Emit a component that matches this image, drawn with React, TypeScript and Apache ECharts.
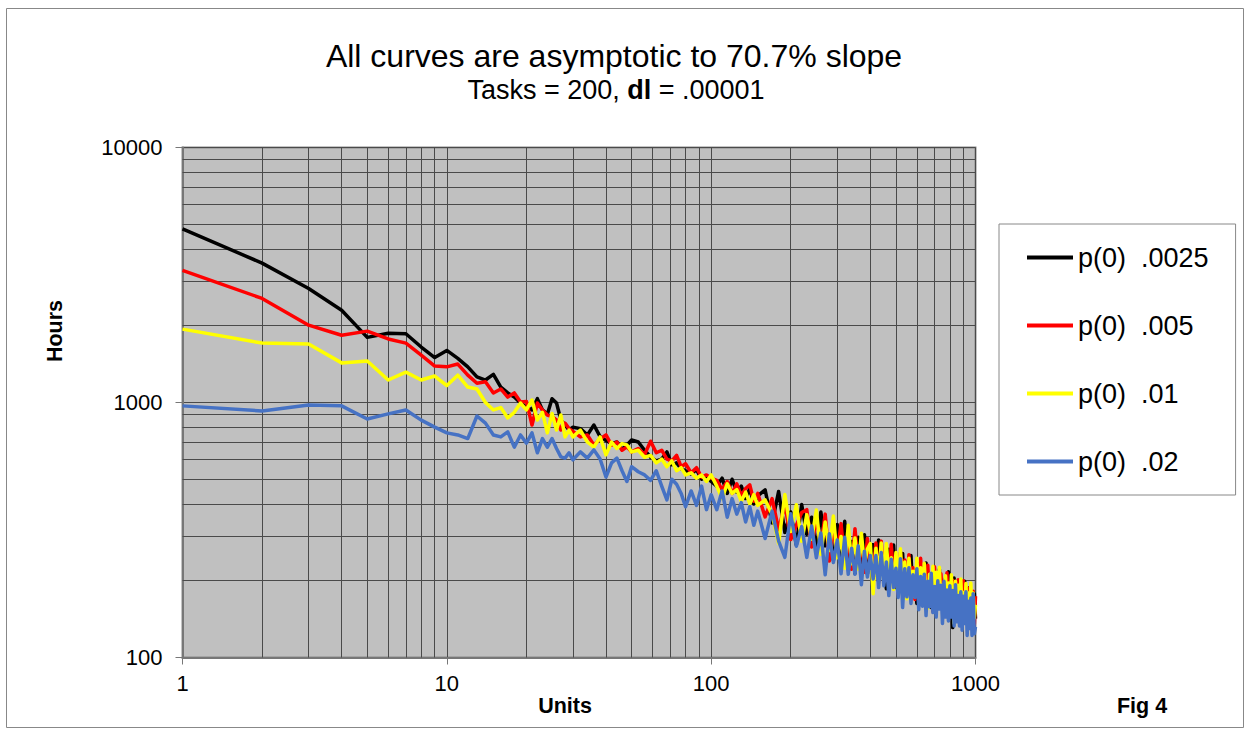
import React, { useEffect, useRef } from "react";
import * as echarts from "echarts";

const FONT = '"Liberation Sans", Arial, Helvetica, sans-serif';

// x values (Units)
const units = [
  1, 2, 3, 4, 5, 6, 7, 8, 9, 10, 11, 12, 13, 14, 15, 16, 17, 18, 19, 20, 21, 22, 23, 24, 25, 26, 27, 28, 29, 30,
  32, 34, 36, 38, 40, 42, 44, 46, 48, 50,
  53, 56, 59, 62, 65, 68, 71, 74, 77, 80,
  84, 88, 92, 96, 100,
  105, 110, 115, 120, 125, 130, 135, 140, 145, 150,
  160, 170, 180, 190, 200, 210, 220, 230, 240, 250, 260, 270, 280, 290, 300, 310, 320, 330, 340, 350, 360, 370, 380, 390, 400,
  410, 420, 430, 440, 450, 460, 470, 480, 490, 500,
  510, 520, 530, 540, 550, 560, 570, 580, 590, 600,
  610, 620, 630, 640, 650, 660, 670, 680, 690, 700,
  710, 720, 730, 740, 750, 760, 770, 780, 790, 800,
  810, 820, 830, 840, 850, 860, 870, 880, 890, 900,
  910, 920, 930, 940, 950, 960, 970, 980, 990, 1000,
];

// Hours, p(0) .0025
const hoursP0025 = [
  4800, 3520, 2800, 2300, 1800, 1870, 1860, 1650, 1500, 1600, 1490, 1380, 1260, 1225, 1290, 1150, 1090, 1050, 995, 960, 935, 1035, 935, 900, 1035, 995, 854, 816, 780, 800,
  790, 745, 816, 735, 710, 690, 700, 655, 680, 713,
  700, 650, 610, 590, 600, 640, 570, 580, 550, 540,
  525, 545, 500, 515, 490,
  470, 505, 440, 500, 445, 470, 420, 460, 400, 430,
  454, 337, 448, 309, 372, 276, 398, 304, 355, 262, 372, 274, 299, 241, 332, 247, 342, 234, 285, 214, 296, 234, 303, 213, 275,
  277, 210, 289, 214, 248, 186, 266, 217, 276, 188,
  239, 193, 256, 176, 234, 194, 251, 177, 210, 163,
  232, 181, 223, 164, 235, 172, 203, 157, 220, 178,
  207, 156, 222, 166, 183, 145, 205, 158, 217, 150,
  187, 131, 205, 142, 189, 147, 196, 135, 176, 154,
  199, 139, 184, 143, 188, 132, 174, 138, 178, 142,
];

// Hours, p(0) .005
const hoursP005 = [
  3300, 2560, 2010, 1835, 1905, 1775, 1710, 1535, 1390, 1380, 1415, 1280, 1190, 1205, 1090, 1130, 1050, 1090, 1005, 1010, 816, 995, 935, 893, 880, 854, 780, 830, 790, 770,
  733, 746, 682, 720, 746, 680, 700, 650, 670, 640,
  660, 625, 705, 635, 650, 600, 590, 620, 560, 575,
  530, 555, 510, 520, 505,
  495, 455, 490, 440, 480, 430, 460, 475, 410, 440,
  356, 420, 317, 399, 290, 330, 370, 380, 271, 354, 273, 365, 239, 323, 260, 335, 238, 289, 222, 320, 232, 286, 216, 293, 225,
  217, 281, 198, 286, 212, 256, 196, 278, 208, 235,
  177, 258, 191, 241, 179, 253, 188, 225, 169, 235,
  174, 245, 179, 218, 165, 230, 170, 202, 152, 227,
  169, 208, 157, 213, 168, 195, 148, 215, 157, 195,
  148, 201, 157, 182, 141, 202, 146, 189, 148, 200,
  139, 178, 148, 187, 133, 177, 142, 182, 135, 174,
];

// Hours, p(0) .01
const hoursP01 = [
  1940, 1710, 1695, 1430, 1455, 1225, 1315, 1225, 1270, 1165, 1280, 1150, 1130, 1000, 935, 955, 870, 915, 995, 935, 1023, 854, 915, 760, 905, 780, 893, 733, 780, 733,
  780, 700, 668, 733, 623, 700, 660, 690, 682, 640,
  650, 610, 620, 580, 600, 560, 590, 540, 555, 520,
  530, 505, 520, 490, 520,
  470, 420, 480, 440, 455, 410, 445, 400, 435, 395,
  415, 364, 280, 436, 312, 397, 286, 363, 291, 379, 254, 340, 263, 359, 246, 298, 224, 330, 233, 294, 222, 307, 231, 266, 280,
  178, 268, 207, 281, 198, 280, 208, 246, 185, 258,
  194, 267, 184, 237, 170, 245, 188, 218, 173, 245,
  178, 225, 163, 234, 169, 156, 212, 169, 228, 159,
  216, 167, 226, 156, 192, 148, 209, 158, 196, 149,
  211, 158, 136, 199, 148, 192, 139, 203, 148, 180,
  139, 195, 148, 179, 138, 196, 142, 179, 143, 161,
];

// Hours, p(0) .02
const hoursP02 = [
  970, 927, 978, 970, 862, 902, 935, 853, 801, 760, 746, 722, 885, 830, 746, 733, 767, 668, 746, 693, 760, 635, 722, 668, 722, 660, 612, 605, 635, 596,
  640, 605, 652, 600, 510, 580, 605, 540, 490, 560,
  535, 520, 495, 540, 470, 415, 500, 478, 440, 390,
  450, 395, 470, 380, 435,
  380, 450, 355, 420, 365, 405, 340, 390, 330, 375,
  293, 375, 286, 247, 366, 273, 326, 247, 328, 246, 308, 211, 306, 236, 289, 213, 296, 212, 268, 212, 274, 193, 261, 207, 251,
  203, 251, 188, 258, 191, 237, 175, 243, 188, 224,
  172, 244, 157, 223, 173, 225, 163, 211, 172, 223,
  154, 208, 159, 212, 146, 199, 158, 214, 150, 190,
  144, 200, 155, 192, 136, 199, 144, 184, 139, 191,
  144, 183, 133, 193, 138, 175, 133, 181, 128, 174,
  136, 181, 122, 166, 130, 171, 122, 178, 124, 132,
];

const seriesNames = ["p(0)  .0025", "p(0)  .005", "p(0)  .01", "p(0)  .02"];
const seriesColors = ["#000000", "#ff0000", "#ffff00", "#4672c4"];
const seriesValues = [hoursP0025, hoursP005, hoursP01, hoursP02];

// minor gridline positions
const minorGridX = [2, 3, 4, 5, 6, 7, 8, 9, 20, 30, 40, 50, 60, 70, 80, 90, 200, 300, 400, 500, 600, 700, 800, 900];
const minorGridY = [200, 300, 400, 500, 600, 700, 800, 900, 2000, 3000, 4000, 5000, 6000, 7000, 8000, 9000];

const titleText = "All curves are asymptotic to 70.7% slope";
const xName = "Units";
const yName = "Hours";
const figLabel = "Fig 4";

export default function App() {
  const ref = useRef<HTMLDivElement>(null);

  useEffect(() => {
    if (!ref.current) return;
    const chart = echarts.init(ref.current, null, { renderer: "svg" });
    const gridColor = "#4a4a4a";

    const lineSeries = seriesNames.map((name, k) => ({
      type: "line",
      name,
      data: units.map((u, i) => [u, seriesValues[k][i]]),
      showSymbol: false,
      symbol: "none",
      silent: true,
      z: 3,
      lineStyle: { width: 3.5, color: seriesColors[k], join: "round" },
      itemStyle: { color: seriesColors[k] },
    }));

    const option = {
      animation: false,
      backgroundColor: "#ffffff",
      grid: {
        left: 182.5,
        top: 147.5,
        width: 793,
        height: 510,
        show: true,
        backgroundColor: "#c0c0c0",
        borderColor: "#8a8a8a",
        borderWidth: 2,
      },
      xAxis: {
        type: "log",
        logBase: 10,
        min: 1,
        max: 1000,
        axisLine: { show: true, onZero: false, lineStyle: { color: "#777777", width: 2 } },
        axisTick: { show: true, length: 7, lineStyle: { color: "#777777", width: 1 } },
        axisLabel: {
          fontSize: 22,
          color: "#000",
          fontFamily: FONT,
          margin: 15,
          formatter: (v: number) => String(Math.round(v)),
        },
        splitLine: { show: true, lineStyle: { color: gridColor, width: 1 } },
      },
      yAxis: {
        type: "log",
        logBase: 10,
        min: 100,
        max: 10000,
        axisLine: { show: true, onZero: false, lineStyle: { color: "#777777", width: 2 } },
        axisTick: { show: true, length: 7, lineStyle: { color: "#777777", width: 1 } },
        axisLabel: {
          fontSize: 22,
          color: "#000",
          fontFamily: FONT,
          margin: 20,
          formatter: (v: number) => String(Math.round(v)),
        },
        splitLine: { show: true, lineStyle: { color: gridColor, width: 1 } },
      },
      legend: {
        data: seriesNames,
        orient: "vertical",
        left: 999,
        top: 224,
        icon: "rect",
        itemWidth: 46,
        itemHeight: 4,
        itemGap: 41,
        padding: [20, 27, 20, 28],
        borderColor: "#888888",
        borderWidth: 1,
        backgroundColor: "#ffffff",
        selectedMode: false,
        textStyle: { fontSize: 27, fontFamily: FONT, color: "#000" },
      },
      graphic: [
        {
          type: "rect",
          shape: { x: 6.5, y: 8.5, width: 1237, height: 719 },
          style: { fill: "none", stroke: "#888888", lineWidth: 1 },
          silent: true,
        },
        {
          type: "text",
          x: 614,
          y: 56,
          style: {
            text: titleText,
            fontSize: 32,
            fontFamily: FONT,
            fill: "#000",
            align: "center",
            verticalAlign: "middle",
          },
        },
        {
          type: "text",
          x: 616,
          y: 90,
          style: {
            text: "{n|Tasks = 200, }{b|dl}{n| = .00001}",
            align: "center",
            verticalAlign: "middle",
            rich: {
              n: { fontSize: 27, fontFamily: FONT, fill: "#000" },
              b: { fontSize: 27, fontFamily: FONT, fontWeight: "bold", fill: "#000" },
            },
          },
        },
        {
          type: "text",
          x: 55,
          y: 331,
          rotation: Math.PI / 2,
          style: {
            text: yName,
            fontSize: 21.5,
            fontWeight: "bold",
            fontFamily: FONT,
            fill: "#000",
            align: "center",
            verticalAlign: "middle",
          },
        },
        {
          type: "text",
          x: 565,
          y: 706,
          style: {
            text: xName,
            fontSize: 21.5,
            fontWeight: "bold",
            fontFamily: FONT,
            fill: "#000",
            align: "center",
            verticalAlign: "middle",
          },
        },
        {
          type: "text",
          x: 1142,
          y: 706,
          style: {
            text: figLabel,
            fontSize: 21.5,
            fontWeight: "bold",
            fontFamily: FONT,
            fill: "#000",
            align: "center",
            verticalAlign: "middle",
          },
        },
      ],
      series: [
        {
          type: "line",
          name: "minor-grid",
          data: [],
          silent: true,
          z: 1,
          markLine: {
            silent: true,
            z: 1,
            animation: false,
            symbol: ["none", "none"],
            label: { show: false },
            lineStyle: { color: gridColor, width: 1, type: "solid" },
            emphasis: { disabled: true },
            data: [
              ...minorGridX.map((v) => ({ xAxis: v })),
              ...minorGridY.map((v) => ({ yAxis: v })),
            ],
          },
        },
        ...lineSeries,
      ],
    };

    chart.setOption(option as any);
    return () => chart.dispose();
  }, []);

  return (
    <div
      ref={ref}
      style={{ position: "absolute", left: 0, top: 0, width: "1251px", height: "734px" }}
    />
  );
}
